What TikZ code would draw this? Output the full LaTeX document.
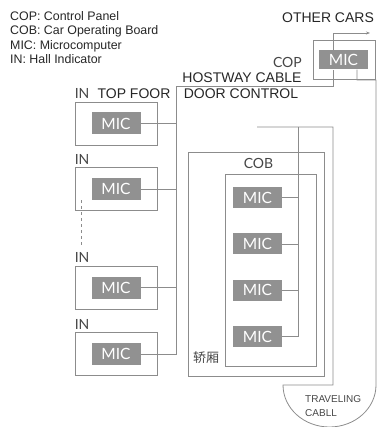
\documentclass[tikz,border=0pt]{standalone}
\usepackage{fontspec}
\setmainfont{Liberation Sans}
\newfontfamily\lblfont{Lato}
\newfontfamily\cjkfont{Noto Sans CJK SC}
\usetikzlibrary{arrows.meta,positioning}
\definecolor{wiregray}{RGB}{140,140,140}
\definecolor{micgray}{RGB}{145,145,145}
\definecolor{lblgray}{RGB}{70,70,70}

\begin{document}
\begin{tikzpicture}[x=1pt, y=-1pt,
    wire/.style={draw=wiregray, line width=0.8pt},
    hallbox/.style={draw=wiregray, line width=0.8pt, minimum width=82pt, minimum height=43pt, inner sep=0pt},
    micbox/.style={fill=micgray, text=white, minimum width=49pt, minimum height=22pt, inner sep=0pt, font=\lblfont\fontsize{15.5}{15.5}\selectfont},
    lbl/.style={text=lblgray, inner sep=0pt, font=\lblfont\fontsize{14}{14}\selectfont},
    caps/.style={text=black!85, inner sep=0pt, font=\fontsize{14}{14}\selectfont},
    >={Stealth[length=4pt,width=3pt]}
]
\useasboundingbox (0,0) rectangle (378,427);

% legend
\node[anchor=north west, align=left, inner sep=0pt, text=black!85, font=\fontsize{12.4}{14.2}\selectfont] (legend) at (10,11.5)
    {COP: Control Panel\\COB: Car Operating Board\\MIC: Microcomputer\\IN: Hall Indicator};

% control panel
\node[caps] (othercars) at (328,18) {OTHER CARS};
\node[hallbox, minimum width=62pt, minimum height=39pt] (copbox) at (344,59.5) {};
\node[micbox, minimum height=19pt] (copmic) at (343.5,60) {MIC};
\node[lbl, anchor=east] (coplbl) at (302,62) {COP};
\node[caps] (hostway) at (242,78) {HOSTWAY CABLE};
\node[caps] (doorctl) at (241,93.5) {DOOR CONTROL};
\node[caps] (topfloor) at (134,93.5) {TOP FOOR};

% hall indicators
\node[hallbox] (hall1) at (116,123.5) {};
\node[hallbox, below=22pt of hall1] (hall2) {};
\node[hallbox] (hall3) at (116,287.5) {};
\node[hallbox, below=23pt of hall3] (hall4) {};
\foreach \i in {1,...,4} {
  \node[micbox] (hm\i) at (hall\i) {MIC};
  \node[lbl, above right=2.5pt and 0pt of hall\i.north west] (in\i) {IN};
}

% car
\node[hallbox, minimum width=136pt, minimum height=224pt] (carbox) at (256,264) {};
\node[hallbox, minimum width=91pt, minimum height=192pt] (cobbox) at (270.5,270) {};
\node[lbl] (coblbl) at (258.5,163) {COB};
\node[lbl, font=\cjkfont\fontsize{13}{13}\selectfont] (carlbl) at (206,358) {轿厢};
\node[micbox, minimum height=21pt] (cm1) at (257.5,197.5) {MIC};
\foreach \i [count=\j from 2] in {1,2,3}
  \node[micbox, minimum height=21pt, below=25pt of cm\i] (cm\j) {MIC};
\node[lbl, font=\fontsize{10}{14.5}\selectfont, align=left, anchor=north west] (travlbl) at (305,395) {TRAVELING\\CABLL};

% cable corners
\coordinate (hbus) at (176,86);
\coordinate (coptap) at (333,86);
\coordinate (copout) at (333,33);
\coordinate (outarrow) at (370,33);
\coordinate (doorL) at (257,127);
\coordinate (doorR) at (333,127);
\coordinate (cobbus) at (298,127);
\coordinate (cabtop) at (357,80);
\coordinate (cabR) at (376,80);
\coordinate (cabL) at (283,385);
\coordinate (cabend) at (333,385);

% hoistway cable
\draw[wire] (hm4.east) -| (hbus) -- (coptap) -- (coptap |- copmic.south);
\draw[wire, ->] (copout |- copmic.north) -- (copout) -- (outarrow);
\foreach \i in {1,2,3}
  \draw[wire] (hm\i.east) -- (hm\i.east -| hbus);
\draw[wire, dashed] ([xshift=7pt, yshift=11pt]hall2.south west) -- ([xshift=7pt, yshift=7pt]in3.north west);

% traveling cable
\draw[wire] (doorL) -- (doorR) -- (cabend) -- (cabL)
  arc[start angle=180, end angle=360, x radius=46.5pt, y radius=42pt] -- (cabR) -- (cabtop) -- (cabtop |- copmic.south);
\draw[wire] (cobbus) -- (cobbus |- cm4.east);
\foreach \i in {1,...,4}
  \draw[wire] (cm\i.east) -- (cm\i.east -| cobbus);
\end{tikzpicture}
\end{document}
